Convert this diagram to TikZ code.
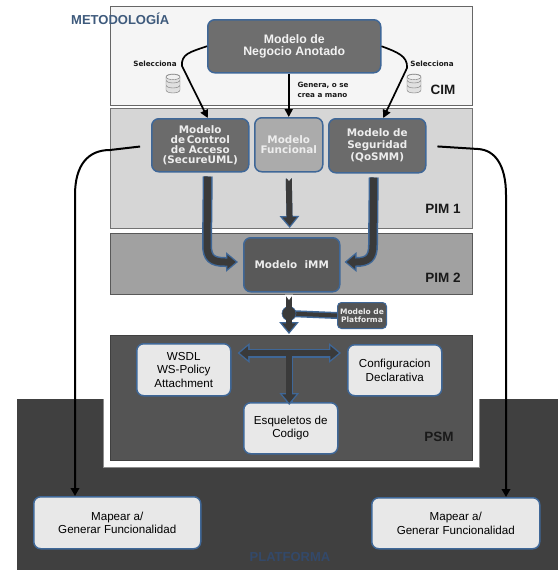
\documentclass[tikz,border=0pt]{standalone}
\usepackage{fontspec}
\setmainfont{Liberation Sans}
\newfontfamily\vb{DejaVu Sans}
\usetikzlibrary{arrows.meta,calc}
\definecolor{edgeblue}{HTML}{3F6797}
\definecolor{coreblock}{HTML}{3A3A3A}
\definecolor{titleblue}{HTML}{3E5A7C}
\definecolor{platblue}{HTML}{33496A}
\tikzset{
  x=1pt,y=-1pt,
  box/.style={rounded corners=7pt,draw=edgeblue,line width=1.5pt,align=center,inner sep=0pt},
  lightbox/.style={box,fill=black!9,text=black,font=\fontsize{11.6}{13.4}\selectfont},
  darktext/.style={text=white!93!black,font=\vb\bfseries\fontsize{10.4}{10}\selectfont},
  tag/.style={font=\bfseries\fontsize{13.5}{13.5}\selectfont,text=black!90},
  small/.style={font=\vb\bfseries\fontsize{7.2}{10}\selectfont,text=black!90,align=left},
  thin arrow/.style={draw=black,line width=1.7pt,-{Triangle[width=8pt,length=8pt]}},
  long arrow/.style={draw=black,line width=2pt,-{Triangle[width=8.5pt,length=8pt]}},
  outerblock/.style={draw=edgeblue,line width=10pt,-{Triangle[width=19pt,length=12pt]}},
  innerblock/.style={draw=coreblock,line width=7pt,shorten >=2.2pt,-{Triangle[width=13.5pt,length=8.5pt]}},
  outerdbl/.style={draw=edgeblue,line width=9pt,{Triangle[width=19pt,length=12pt]}-{Triangle[width=19pt,length=12pt]}},
  innerdbl/.style={draw=coreblock,line width=6pt,shorten >=2.2pt,shorten <=2.2pt,{Triangle[width=13.5pt,length=8.5pt]}-{Triangle[width=13.5pt,length=8.5pt]}},
  outerstem/.style={draw=edgeblue,line width=8.5pt},
  innerstem/.style={draw=coreblock,line width=5.5pt},
  dbdisk/.style={draw=black!55,fill=black!12,line width=0.4pt},
}
\newcommand{\dbicon}[2]{%
  \begin{scope}[shift={(#1,#2)}]
    \draw[dbdisk] (-7,3) arc[start angle=180,end angle=360,x radius=7,y radius=3] -- (7,7) arc[start angle=0,end angle=-180,x radius=7,y radius=-3] -- cycle;
    \draw[dbdisk] (-7,-2) arc[start angle=180,end angle=360,x radius=7,y radius=3] -- (7,2) arc[start angle=0,end angle=-180,x radius=7,y radius=-3] -- cycle;
    \draw[dbdisk] (-7,-6) arc[start angle=180,end angle=360,x radius=7,y radius=3] -- (7,-3) arc[start angle=0,end angle=-180,x radius=7,y radius=-3] -- cycle;
    \draw[dbdisk,fill=black!6] (0,-6) ellipse[x radius=7,y radius=2.6];
  \end{scope}}
\newcommand{\boxat}[7]{%
  \node[#6,minimum width=#3-#1,minimum height=#4-#2,anchor=north west] (#5) at (#1,#2) {#7};}
\begin{document}
\begin{tikzpicture}
\useasboundingbox (0,0) rectangle (558,570);
\fill[white] (0,0) rectangle (558,570);
% platform background
\fill[black!75] (16.5,399) rectangle (558,570);
\fill[white] (103,399) rectangle (479,467);
\draw[black!45,line width=0.6pt] (103,399) -- (103,467) -- (479,467) -- (479,399);
% panels
\draw[draw=black!60,fill=black!4,line width=0.7pt] (110,6) rectangle (472,105);
\draw[draw=black!55,fill=black!16,line width=0.7pt] (110,108) rectangle (472,228);
\draw[draw=black!65,fill=black!37,line width=0.7pt] (110,233) rectangle (472,294);
\draw[draw=black!75,fill=black!67,line width=0.7pt] (110,335) rectangle (472,460);
% nodes
\boxat{207}{19}{380}{72}{neg}{box,fill=black!57,text=white!95!black,font=\bfseries\fontsize{12.3}{11.2}\selectfont}{Modelo de\\Negocio Anotado}
\boxat{151}{118}{248}{171}{ctrl}{box,fill=black!58,darktext}{Modelo\\de\,Control\\de Acceso\\(SecureUML)}
\boxat{254}{117}{322}{171}{func}{box,fill=black!33,darktext}{Modelo\\Funcional}
\boxat{328}{118}{425}{172}{seg}{box,fill=black!58,darktext,font=\vb\bfseries\fontsize{10.4}{12}\selectfont}{Modelo de\\Seguridad\\(QoSMM)}
\boxat{243}{237}{339}{291}{imm}{box,fill=black!65,darktext}{Modelo\ \ iMM}
\boxat{337}{302}{386}{328}{plat}{box,rounded corners=4pt,line width=1pt,fill=black!67,text=white!92!black,font=\vb\bfseries\fontsize{7.5}{8}\selectfont}{Modelo de\\Platforma}
\boxat{136}{343}{230}{395}{wsdl}{lightbox}{WSDL\\WS-Policy\\Attachment}
\boxat{347}{344}{441}{395}{conf}{lightbox}{Configuracion\\Declarativa}
\boxat{243}{402}{337}{453}{esq}{lightbox}{Esqueletos de\\Codigo}
\boxat{33}{496}{200}{548}{mapl}{lightbox}{Mapear a/\\Generar Funcionalidad}
\boxat{371}{497}{539}{548}{mapr}{lightbox}{Mapear a/\\Generar Funcionalidad}
% thin connectors
\draw[thin arrow] (neg.west) .. controls (190,52) and (181,54) .. (182,66) -- ([xshift=7.5pt]ctrl.north);
\draw[thin arrow] (neg.east) .. controls (397,52) and (408,56) .. (407,68) -- ([xshift=6pt]seg.north);
\draw[thin arrow] (neg.south-|func.north) -- (func.north);
% long connectors
\draw[long arrow,shorten <=11pt] (ctrl.west) -- (110,150) .. controls (88,150) and (75,165) .. (75,195) -- (mapl.north-|75,0);
\draw[long arrow,shorten <=11pt] (seg.east) -- (478,149) .. controls (495,150) and (506,165) .. (506,195) -- (mapr.north-|506,0);
% block connectors
\coordinate (cl) at ($(ctrl.south)+(7.5,4)$);
\coordinate (cr) at ($(seg.south)+(-3.5,4)$);
\coordinate (cf) at ($(func.south)+(0,6)$);
\coordinate (immtop) at ($(imm.north)+(-2,-9)$);
\foreach \st in {outerblock,innerblock}{
  \draw[\st] (cl) -- (207,245) .. controls (207,258) and (212,262) .. (225,262) -- ([xshift=-5pt]imm.west|-0,262);
  \draw[\st] (cr) -- (373,245) .. controls (373,258) and (368,262) .. (356,262) -- ([xshift=4pt]imm.east|-0,262);
  \draw[\st,line width=6pt] (cf) -- (immtop);
}
% platform arrow
\coordinate (ptop) at (289,296);
\coordinate (pbot) at (289,334);
\coordinate (pj) at (289,313.5);
\draw[outerstem,line width=7pt] (plat.west) -- (pj);
\foreach \st in {outerblock,innerblock}{\draw[\st,line width=6pt] (ptop) -- (pbot);}
\draw[innerstem,line width=4pt] (plat.west) -- (pj);
\fill[coreblock,draw=edgeblue,line width=0.6pt] (pj) circle[radius=7];
\draw[innerstem,line width=6pt] (289,304) -- (289,323);
% PSM T
\coordinate (tj) at ($(wsdl.east)!0.5!(conf.west)$);
\coordinate (tjt) at (tj|-0,353);
\draw[outerstem,line width=7pt] (tjt) -- (tjt|-esq.north);
\draw[outerdbl] ([xshift=6pt]wsdl.east|-0,353) -- ([xshift=-6pt]conf.west|-0,353);
\draw[innerdbl] ([xshift=6pt]wsdl.east|-0,353) -- ([xshift=-6pt]conf.west|-0,353);
\foreach \st in {outerblock,innerblock}{\draw[\st,line width=6pt] (tjt) -- ([yshift=-3pt]tjt|-esq.north);}
% tail notches
\fill[black!16] (285,176) -- (293,176) -- (289,181) -- cycle;
\fill[white] (285,294.6) -- (293,294.6) -- (289,300) -- cycle;
% labels
\node[small,anchor=center] (s1) at (155,64) {Selecciona};
\node[small,anchor=center] (s2) at (432,64) {Selecciona};
\node[small,anchor=west] (gen) at (294,90) {Genera, o se\\crea a mano};
\node[tag] (tcim) at (443,90) {CIM};
\node[tag] (tp1) at (443,209) {PIM 1};
\node[tag] (tp2) at (443,278) {PIM 2};
\node[tag] (tpsm) at (439,437) {PSM};
\node[anchor=west,inner sep=0pt,text=titleblue,font=\bfseries\fontsize{13}{13}\selectfont] (met) at (71,19) {METODOLOGÍA};
\node[text=platblue,font=\bfseries\fontsize{13}{13}\selectfont] (pf) at (290,557) {PLATFORMA};
\dbicon{173}{83}
\dbicon{414}{83}
\end{tikzpicture}
\end{document}
